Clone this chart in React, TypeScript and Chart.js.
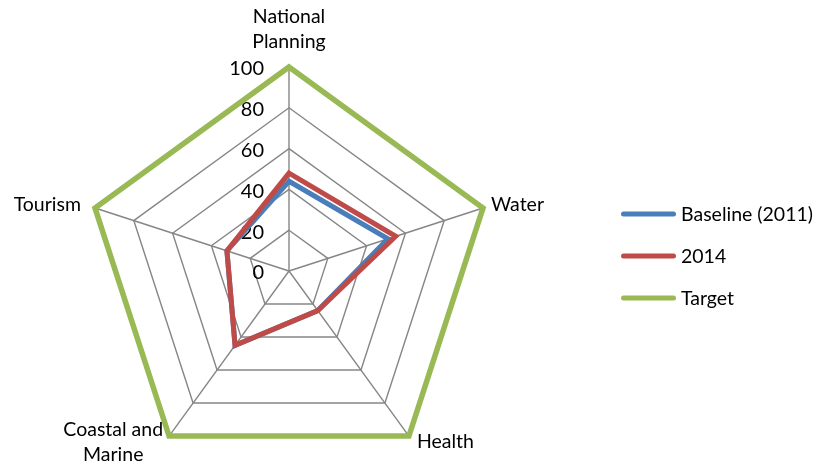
import React, { useEffect, useRef } from "react";
import { Chart, registerables } from "chart.js";
Chart.register(...registerables);

const categories: (string | string[])[] = [["National", "Planning"], "Water", "Health", ["Coastal and", "Marine"], "Tourism"];
const seriesNames = ["Baseline (2011)", "2014", "Target"];
const baseline = [44, 51, 24, 45, 32];
const y2014 = [48, 55, 24, 45, 32];
const target = [100, 100, 100, 100, 100];
const tickLabels = ["0", "20", "40", "60", "80", "100"];

const FONT = "Lato, 'Open Sans', sans-serif";
const TEXT_SIZE = 19.5;

// tick labels to the left of the vertical axis
const leftTicks = {
  id: "leftTicks",
  beforeDatasetsDraw(chart: any) {
    const s = chart.scales.r;
    const ctx = chart.ctx;
    ctx.save();
    ctx.font = `20px ${FONT}`;
    ctx.fillStyle = "#000";
    ctx.textAlign = "right";
    ctx.textBaseline = "middle";
    s.ticks.forEach((t: any, i: number) => {
      const d = s.getDistanceFromCenterForValue(t.value);
      ctx.fillText(tickLabels[i] ?? String(t.value), s.xCenter - 25, s.yCenter - d + 2);
    });
    ctx.restore();
  },
};

// category labels placed around the vertices
const pointLabelsPlugin = {
  id: "pointLabelsCustom",
  afterDraw(chart: any) {
    const s = chart.scales.r;
    const ctx = chart.ctx;
    const labels = chart.data.labels as (string | string[])[];
    const lh = 25;
    ctx.save();
    ctx.font = `${TEXT_SIZE}px ${FONT}`;
    ctx.fillStyle = "#000";
    ctx.textBaseline = "middle";
    ctx.textAlign = "center";
    labels.forEach((lab, i) => {
      const lines = Array.isArray(lab) ? lab : [lab];
      const p = s.getPointPosition(i, s.drawingArea);
      const dx = p.x - s.xCenter;
      const dy = p.y - s.yCenter;
      const w = Math.max(...lines.map((l) => ctx.measureText(l).width));
      let cx: number;
      let cy: number;
      if (Math.abs(dx) < 2) {
        cx = p.x;
        cy = dy < 0 ? p.y - 37.5 : p.y + 37.5;
      } else {
        const gap = dx > 0 ? 8 : dy < 0 ? 14 : 6;
        cx = dx > 0 ? p.x + gap + w / 2 : p.x - gap - w / 2;
        cy = dy < 0 ? p.y - 3 : p.y + 6;
      }
      lines.forEach((l, k) => {
        ctx.fillText(l, cx, cy + (k - (lines.length - 1) / 2) * lh);
      });
    });
    ctx.restore();
  },
};

// legend on the right: line swatch + series name
const sideLegend = {
  id: "sideLegend",
  afterDraw(chart: any) {
    const ctx = chart.ctx;
    const x0 = 623.5;
    const x1 = 673.5;
    const y0 = 214;
    const step = 42;
    ctx.save();
    ctx.font = `${TEXT_SIZE}px ${FONT}`;
    ctx.textBaseline = "middle";
    ctx.textAlign = "left";
    chart.data.datasets.forEach((ds: any, i: number) => {
      const y = y0 + i * step;
      ctx.strokeStyle = ds.borderColor;
      ctx.lineWidth = 5;
      ctx.lineCap = "round";
      ctx.beginPath();
      ctx.moveTo(x0, y);
      ctx.lineTo(x1, y);
      ctx.stroke();
      ctx.fillStyle = "#000";
      ctx.fillText(ds.label, 681, y + 1);
    });
    ctx.restore();
  },
};

export default function App() {
  const ref = useRef<HTMLCanvasElement>(null);
  useEffect(() => {
    const chart = new Chart(ref.current!, {
      type: "radar",
      data: {
        labels: categories,
        datasets: [
          { label: seriesNames[0], data: baseline, borderColor: "#4a7ebb", backgroundColor: "transparent", borderWidth: 5, pointRadius: 0, order: 1, fill: false },
          { label: seriesNames[1], data: y2014, borderColor: "#be4b48", backgroundColor: "transparent", borderWidth: 5, pointRadius: 0, order: 0, fill: false },
          { label: seriesNames[2], data: target, borderColor: "#98b954", backgroundColor: "transparent", borderWidth: 5.5, pointRadius: 0, order: 2, fill: false },
        ],
      },
      options: {
        animation: false,
        responsive: true,
        maintainAspectRatio: false,
        layout: { padding: { left: 85, right: 322, top: 67, bottom: 5 } },
        elements: { line: { tension: 0, borderJoinStyle: "miter" } },
        scales: {
          r: {
            min: 0,
            max: 100,
            ticks: { stepSize: 20, display: false },
            grid: { color: "#868686", lineWidth: 1.4, circular: false },
            angleLines: { color: "#868686", lineWidth: 1.4 },
            pointLabels: { display: false },
          },
        },
        plugins: {
          tooltip: { enabled: false },
          legend: { display: false },
        },
      },
      plugins: [leftTicks, pointLabelsPlugin, sideLegend],
    });
    return () => chart.destroy();
  }, []);
  return (
    <div style={{ position: "absolute", left: 0, top: 0, width: 815, height: 462, overflow: "hidden" }}>
      <div style={{ position: "relative", width: 815, height: 480 }}>
        <canvas ref={ref} />
      </div>
    </div>
  );
}
